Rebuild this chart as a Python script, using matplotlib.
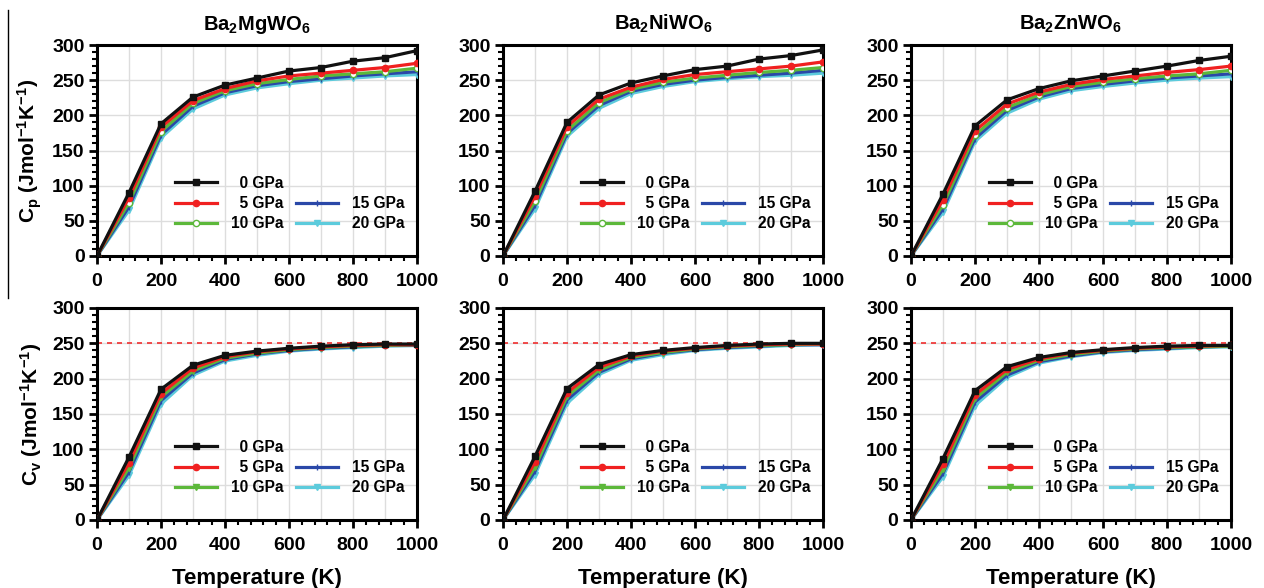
import matplotlib
matplotlib.use("Agg")
import matplotlib.pyplot as plt
from matplotlib.lines import Line2D
from matplotlib.ticker import MultipleLocator

plt.rcParams["font.family"] = ["Liberation Sans", "DejaVu Sans"]
plt.rcParams["font.weight"] = "bold"
plt.rcParams["mathtext.fontset"] = "custom"
plt.rcParams["mathtext.rm"] = "Liberation Sans:bold"
plt.rcParams["mathtext.bf"] = "Liberation Sans:bold"
plt.rcParams["mathtext.it"] = "Liberation Sans:bold"
plt.rcParams["mathtext.default"] = "bf"

# ── data ─────────────────────────────────────────────────────────────────────
temperature = [0, 100, 200, 300, 400, 500, 600, 700, 800, 900, 1000]
pressures = ["0 GPa", "5 GPa", "10 GPa", "15 GPa", "20 GPa"]
compounds = [r"Ba$_2$MgWO$_6$", r"Ba$_2$NiWO$_6$", r"Ba$_2$ZnWO$_6$"]

cp_mg = [
    [0, 90, 188, 226, 243, 253, 263, 268, 277, 282, 292],
    [0, 83, 183, 221, 238, 249, 256, 260, 264, 268, 274],
    [0, 76, 177, 217, 235, 245, 251, 256, 259, 262, 267],
    [0, 70, 172, 213, 232, 242, 248, 252, 256, 259, 262],
    [0, 65, 168, 209, 229, 239, 245, 250, 253, 256, 258],
]
cp_ni = [
    [0, 92, 190, 229, 246, 256, 265, 270, 280, 285, 293],
    [0, 85, 184, 223, 240, 251, 258, 262, 266, 270, 276],
    [0, 78, 178, 218, 237, 247, 253, 257, 261, 264, 268],
    [0, 72, 174, 214, 234, 244, 250, 254, 257, 260, 264],
    [0, 67, 170, 210, 231, 241, 248, 252, 255, 257, 260],
]
cp_zn = [
    [0, 88, 185, 222, 238, 249, 256, 263, 270, 278, 284],
    [0, 80, 178, 216, 233, 244, 251, 256, 261, 265, 270],
    [0, 73, 172, 211, 229, 241, 247, 252, 256, 259, 264],
    [0, 67, 167, 207, 226, 238, 244, 249, 253, 256, 259],
    [0, 62, 163, 203, 223, 235, 241, 246, 250, 253, 255],
]
cv_mg = [
    [0, 89, 185, 219, 233, 239, 243, 246, 248, 249, 249],
    [0, 81, 179, 215, 231, 238, 242, 245, 247, 248, 248],
    [0, 74, 174, 211, 229, 236, 241, 244, 246, 247, 248],
    [0, 68, 169, 208, 227, 235, 240, 243, 245, 247, 247],
    [0, 63, 164, 205, 225, 233, 239, 242, 244, 246, 247],
]
cv_ni = [
    [0, 90, 186, 220, 234, 240, 244, 247, 249, 250, 250],
    [0, 82, 180, 216, 232, 239, 243, 246, 248, 249, 249],
    [0, 75, 175, 212, 230, 237, 242, 245, 247, 248, 249],
    [0, 69, 170, 209, 228, 236, 241, 244, 246, 248, 248],
    [0, 64, 165, 206, 226, 234, 240, 243, 245, 247, 248],
]
cv_zn = [
    [0, 87, 183, 217, 230, 237, 241, 244, 246, 247, 247],
    [0, 79, 177, 213, 228, 236, 240, 243, 245, 246, 247],
    [0, 72, 172, 209, 226, 234, 239, 242, 244, 245, 246],
    [0, 66, 167, 205, 224, 232, 238, 241, 243, 245, 246],
    [0, 61, 162, 202, 222, 231, 237, 240, 242, 244, 245],
]
dulong_petit = 250

# ── styles ───────────────────────────────────────────────────────────────────
colors = ["#111111", "#f02020", "#5cb83a", "#2a48a8", "#5ccbdc"]
markers_cp = ["s", "o", "o", "|", "v"]
markers_cv = ["s", "o", "v", "|", "v"]
legend_labels = ["  0 GPa", "  5 GPa", "10 GPa", "15 GPa", "20 GPa"]

fig = plt.figure(figsize=(12.64, 5.88), dpi=100)

lefts = [97 / 1264, 503 / 1264, 911 / 1264]
width = 320 / 1264
rows = [(1 - 256 / 588, 211 / 588), (1 - 520 / 588, 212 / 588)]

data = [[cp_mg, cp_ni, cp_zn], [cv_mg, cv_ni, cv_zn]]


def style_axes(ax):
    ax.set_xlim(0, 1000)
    ax.set_ylim(0, 300)
    ax.xaxis.set_major_locator(MultipleLocator(200))
    ax.xaxis.set_minor_locator(MultipleLocator(40))
    ax.yaxis.set_major_locator(MultipleLocator(50))
    ax.yaxis.set_minor_locator(MultipleLocator(10))
    for x in range(100, 1000, 100):
        ax.axvline(x, color="#dddddd", lw=1.0, zorder=0)
    for y in range(50, 300, 50):
        ax.axhline(y, color="#dddddd", lw=1.0, zorder=0)
    for s in ax.spines.values():
        s.set_linewidth(2.2)
    ax.tick_params(which="major", direction="out", length=6, width=2,
                   labelsize=14)
    ax.tick_params(axis="x", which="major", pad=6)
    ax.tick_params(axis="y", which="major", pad=3)
    ax.tick_params(which="minor", direction="out", length=3.5, width=1.5)
    for lab in ax.get_xticklabels() + ax.get_yticklabels():
        lab.set_fontweight("bold")


for r, (bottom, height) in enumerate(rows):
    for c in range(3):
        ax = fig.add_axes([lefts[c], bottom, width, height])
        style_axes(ax)
        markers = markers_cp if r == 0 else markers_cv
        handles = []
        for i, series in enumerate(data[r][c]):
            mfc = "white" if (r == 0 and i == 2) else colors[i]
            (h,) = ax.plot(temperature, series, color=colors[i], lw=2.3,
                           marker=markers[i], markersize=4.5,
                           markerfacecolor=mfc, markeredgecolor=colors[i],
                           markeredgewidth=1.0, zorder=3 + (4 - i))
            handles.append(h)
        if r == 1:
            ax.axhline(dulong_petit, color="#f03030", lw=1.2,
                       ls=(0, (3, 3)), zorder=2)
        blank = Line2D([], [], color="none")
        ax.legend(
            [handles[0], handles[1], handles[2], blank, handles[3], handles[4]],
            [legend_labels[0], legend_labels[1], legend_labels[2], "",
             legend_labels[3], legend_labels[4]],
            ncol=2, loc="lower left", bbox_to_anchor=(0.2, 0.05),
            frameon=False, handlelength=2.7,
            handletextpad=0.9, columnspacing=0.8, labelspacing=0.35,
            prop={"weight": "bold", "size": 11.2})
        if r == 0:
            ax.set_title(compounds[c], fontsize=14.5, fontweight="bold", pad=11)
            if c == 0:
                ax.set_ylabel(r"C$_\mathbf{p}$ (Jmol$^{\mathbf{-1}}$K$^{\mathbf{-1}}$)",
                              fontsize=15, fontweight="bold", labelpad=6)
        else:
            ax.set_xlabel("Temperature (K)", fontsize=16, fontweight="bold",
                          labelpad=10)
            if c == 0:
                ax.set_ylabel(r"C$_\mathbf{v}$ (Jmol$^{\mathbf{-1}}$K$^{\mathbf{-1}}$)",
                              fontsize=15, fontweight="bold", labelpad=6)

# thin vertical rule at the left edge of the upper row
fig.add_artist(Line2D([8 / 1264, 8 / 1264], [1 - 298 / 588, 1 - 10 / 588],
                      color="black", lw=1.0, transform=fig.transFigure))

fig.savefig("out.png", dpi=100)
